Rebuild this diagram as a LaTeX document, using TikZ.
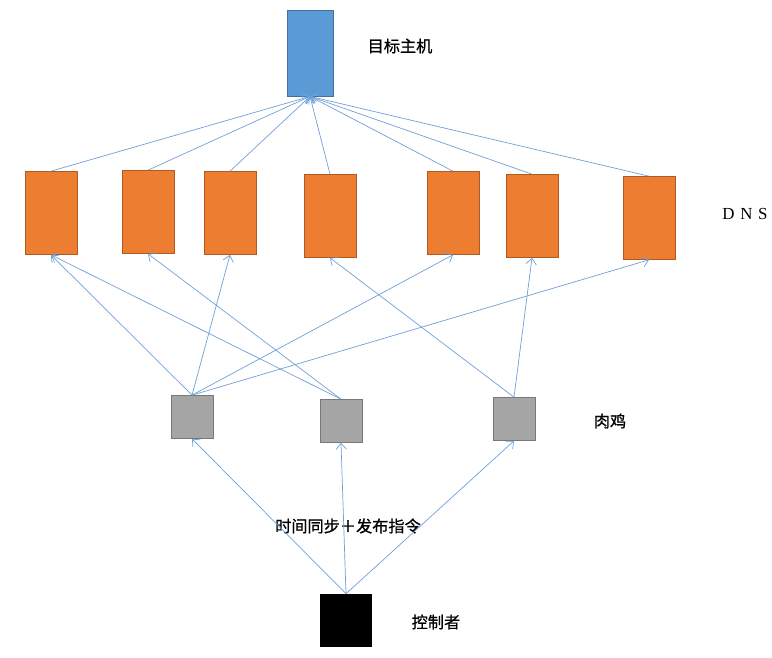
\documentclass[tikz,border=0pt]{standalone}
\usepackage{fontspec}
\newfontfamily\cjk[FakeBold=0.8]{Noto Sans CJK SC}
\newfontfamily\dnsfont{Liberation Serif}
\usepackage{tikz}
\usetikzlibrary{arrows.meta,positioning}
\definecolor{hostblue}{HTML}{5B9BD5}
\definecolor{hostedge}{HTML}{41719C}
\definecolor{dnsorange}{HTML}{ED7D31}
\definecolor{dnsedge}{HTML}{AE5A21}
\definecolor{botgray}{HTML}{A5A5A5}
\definecolor{botedge}{HTML}{787878}
\definecolor{linkblue}{HTML}{6FA0D8}
\tikzset{
  host/.style={rectangle, draw=hostedge, fill=hostblue, line width=0.6pt, minimum width=1.15cm, minimum height=2.15cm},
  dns/.style={rectangle, draw=dnsedge, fill=dnsorange, line width=0.6pt, minimum width=1.3cm, minimum height=2.07cm},
  bot/.style={rectangle, draw=botedge, fill=botgray, line width=0.6pt, minimum width=1.05cm, minimum height=1.07cm},
  ctrl/.style={rectangle, draw=black, fill=black, minimum width=1.27cm, minimum height=1.3cm},
  lbl/.style={font=\cjk\fontsize{11.5}{13}\selectfont, inner sep=0pt},
  flow/.style={draw=linkblue, line width=0.5pt, -{Straight Barb[length=1.5mm, width=2.6mm]}},
}
\begin{document}
\begin{tikzpicture}[x=0.025cm, y=-0.025cm]
  \useasboundingbox (0,0) rectangle (772,658);
  % target host
  \node[host] (target) at (310,53) {};
  \node[lbl] (targetlbl) at (400,46) {目标主机};
  % dns servers
  \node[dns] (dns1) at (51,213) {};
  \node[dns] (dns2) at (148,212) {};
  \node[dns] (dns3) at (230,213) {};
  \node[dns] (dns4) at (330,216) {};
  \node[dns] (dns5) at (453,213) {};
  \node[dns] (dns6) at (532,216) {};
  \node[dns] (dns7) at (649,218) {};
  \node[inner sep=0pt, font=\dnsfont\fontsize{12}{13}\selectfont] (dnslbl) at (745,214) {D\,\,N\,\,S};
  % bots
  \node[bot] (bot1) at (192,417) {};
  \node[bot] (bot2) at (341,421) {};
  \node[bot] (bot3) at (514,419) {};
  \node[lbl] (botlbl) at (610,421) {肉鸡};
  % controller
  \node[ctrl] (master) at (346,620) {};
  \node[lbl] (masterlbl) at (436,622) {控制者};
  \node[lbl] (cmdlbl) at (348,526) {时间同步＋发布指令};
  % dns to target
  \foreach \d in {dns1,dns2,dns3,dns4,dns5,dns6,dns7} \draw[flow] (\d.north) -- (target.south);
  % bots to dns
  \foreach \d in {dns1,dns3,dns5,dns7} \draw[flow] (bot1.north) -- (\d.south);
  \foreach \d in {dns1,dns2} \draw[flow] (bot2.north) -- (\d.south);
  \foreach \d in {dns4,dns6} \draw[flow] (bot3.north) -- (\d.south);
  % controller to bots
  \foreach \b in {bot1,bot2,bot3} \draw[flow] (master.north) -- (\b.south);
\end{tikzpicture}
\end{document}
